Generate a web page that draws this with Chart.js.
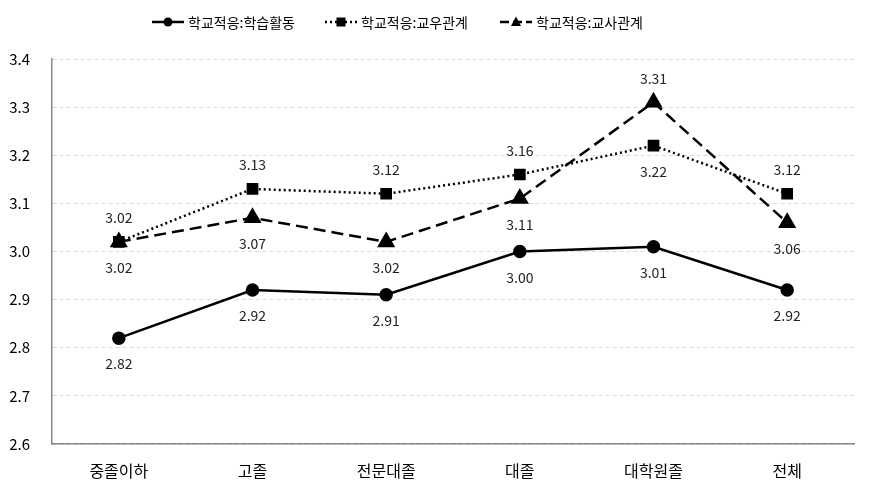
<!DOCTYPE html>
<html>
<head>
<meta charset="utf-8">
<script src="https://cdn.jsdelivr.net/npm/chart.js@4"></script>
<style>
  body { margin: 0; background: #fff; }
  #wrap { width: 871px; height: 494px; }
</style>
</head>
<body>
<div id="wrap"><canvas id="chart"></canvas></div>
<script>
const categories = ["중졸이하", "고졸", "전문대졸", "대졸", "대학원졸", "전체"];
const study = [2.82, 2.92, 2.91, 3.00, 3.01, 2.92];
const peers = [3.02, 3.13, 3.12, 3.16, 3.22, 3.12];
const teachers = [3.02, 3.07, 3.02, 3.11, 3.31, 3.06];
const seriesNames = ["학교적응:학습활동", "학교적응:교우관계", "학교적응:교사관계"];

// where each value label sits
const labelSide = [
  ["below", "below", "below", "below", "below", "below"],
  ["above", "above", "above", "above", "below", "above"],
  ["below", "below", "below", "below", "above", "below"]
];

const FONT = "'Malgun Gothic', 'Noto Sans CJK KR', sans-serif";

const valueLabels = {
  id: "valueLabels",
  afterDatasetsDraw(chart) {
    const ctx = chart.ctx;
    ctx.save();
    ctx.font = "14px " + FONT;
    ctx.fillStyle = "#222";
    ctx.textAlign = "center";
    ctx.textBaseline = "middle";
    chart.data.datasets.forEach((ds, i) => {
      chart.getDatasetMeta(i).data.forEach((pt, j) => {
        const dy = labelSide[i][j] === "above" ? -24 : 26;
        ctx.fillText(ds.data[j].toFixed(2), pt.x, pt.y + dy);
      });
    });
    ctx.restore();
  }
};

const legendItems = [
  { x: 152, dash: [], style: "circle" },
  { x: 325, dash: [2, 3], style: "rect" },
  { x: 500, dash: [9, 4], style: "triangle" }
];

const customLegend = {
  id: "customLegend",
  afterDraw(chart) {
    const ctx = chart.ctx;
    ctx.save();
    const y = 22;
    legendItems.forEach((it, i) => {
      ctx.strokeStyle = "#000";
      ctx.lineWidth = 2.5;
      ctx.setLineDash(it.dash);
      ctx.beginPath();
      ctx.moveTo(it.x, y);
      ctx.lineTo(it.x + 32, y);
      ctx.stroke();
      ctx.setLineDash([]);
      ctx.fillStyle = "#000";
      const cx = it.x + 16;
      ctx.beginPath();
      if (it.style === "circle") {
        ctx.arc(cx, y, 4.5, 0, Math.PI * 2);
      } else if (it.style === "rect") {
        ctx.rect(cx - 4.5, y - 4.5, 9, 9);
      } else {
        ctx.moveTo(cx, y - 5.5);
        ctx.lineTo(cx + 5, y + 4);
        ctx.lineTo(cx - 5, y + 4);
        ctx.closePath();
      }
      ctx.fill();
      ctx.font = "14px " + FONT;
      ctx.textAlign = "left";
      ctx.textBaseline = "middle";
      ctx.fillText(seriesNames[i], it.x + 36, y + 1);
    });
    ctx.restore();
  }
};

new Chart(document.getElementById("chart"), {
  type: "line",
  data: {
    labels: categories,
    datasets: [
      {
        label: seriesNames[0], data: study,
        borderColor: "#000", backgroundColor: "#000", borderWidth: 2.5,
        pointStyle: "circle", pointRadius: 5.5, pointHoverRadius: 5.5,
        tension: 0
      },
      {
        label: seriesNames[1], data: peers,
        borderColor: "#000", backgroundColor: "#000", borderWidth: 2.5,
        borderDash: [2, 3],
        pointStyle: "rect", pointRadius: 6.5, pointHoverRadius: 6.5,
        tension: 0
      },
      {
        label: seriesNames[2], data: teachers,
        borderColor: "#000", backgroundColor: "#000", borderWidth: 2.5,
        borderDash: [12, 6],
        pointStyle: "triangle", pointRadius: 8, pointHoverRadius: 8,
        tension: 0
      }
    ]
  },
  options: {
    responsive: true,
    maintainAspectRatio: false,
    animation: false,
    layout: { padding: { top: 59, right: 17, left: 0, bottom: 0 } },
    plugins: {
      legend: { display: false },
      tooltip: { enabled: false }
    },
    scales: {
      x: {
        offset: true,
        grid: { display: false, drawTicks: false },
        border: { display: true, color: "#888", width: 1.5 },
        ticks: { color: "#000", font: { family: FONT, size: 16 }, padding: 17 },
        afterFit(scale) { scale.height = 50; }
      },
      y: {
        min: 2.6, max: 3.4,
        grid: { color: "#d9d9d9", drawTicks: false, tickLength: 0 },
        border: { display: true, color: "#888", width: 1.5, dash: [4, 3] },
        ticks: {
          stepSize: 0.1, padding: 22, color: "#000",
          font: { family: FONT, size: 15 },
          callback: v => v.toFixed(1)
        },
        afterFit(scale) { scale.width = 52; }
      }
    }
  },
  plugins: [valueLabels, customLegend]
});
</script>
</body>
</html>
